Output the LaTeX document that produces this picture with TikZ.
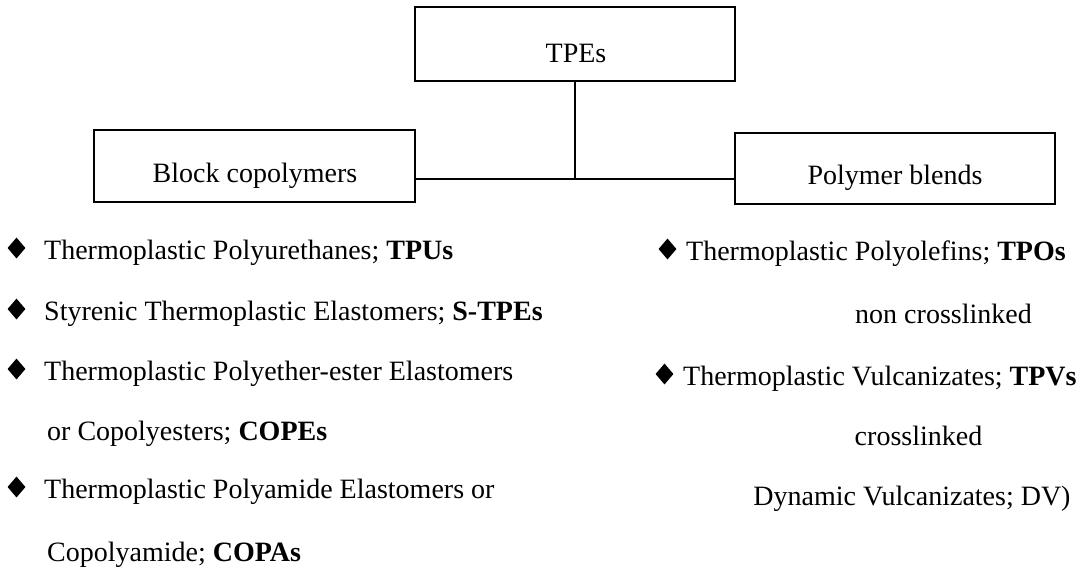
\documentclass[tikz,border=0pt]{standalone}
\usepackage{fontspec}
\setmainfont{Liberation Serif}
\usetikzlibrary{shapes.geometric}
\begin{document}
\begin{tikzpicture}[x=1pt,y=-1pt,
  box/.style={draw,line width=1.6pt,inner sep=0pt},
  lbl/.style={anchor=base,inner sep=0pt,font=\fontsize{28}{33}\selectfont},
  item/.style={anchor=base west,inner sep=0pt,font=\fontsize{28}{33}\selectfont},
  citem/.style={anchor=base,inner sep=0pt,font=\fontsize{28}{33}\selectfont},
  bullet/.style={diamond,fill=black,inner sep=0pt,minimum width=18pt,minimum height=21pt},
  conn/.style={line width=1.8pt}]
\useasboundingbox[fill=white] (0,0) rectangle (1089,571);
% boxes
\node[box,minimum width=320pt,minimum height=74pt] (tpe) at (575,44) {};
\node[box,minimum width=321pt,minimum height=72pt] (block) at (254.5,166) {};
\node[box,minimum width=320pt,minimum height=71pt] (blend) at (895,168.5) {};
\node[lbl] (tpet) at (576,62) {TPEs};
\node[lbl] (blockt) at (255,182) {Block copolymers};
\node[lbl] (blendt) at (895,184) {Polymer blends};
\coordinate (j) at (575,179);
\draw[conn] (tpe.south) -- (j);
\draw[conn] (block.east |- j) -- (blend.west |- j);
% left list
\node[bullet] (b1) at (16.5,248) {};
\node[item] (l1) at (44,259) {Thermoplastic Polyurethanes; \textbf{TPUs}};
\node[bullet] (b2) at (16.5,309) {};
\node[item] (l2) at (44,320) {Styrenic Thermoplastic Elastomers; \textbf{S-TPEs}};
\node[bullet] (b3) at (16.5,369) {};
\node[item] (l3) at (44,380) {Thermoplastic Polyether-ester Elastomers};
\node[item] (l4) at (47,440) {or Copolyesters; \textbf{COPEs}};
\node[bullet] (b5) at (16.5,487) {};
\node[item] (l5) at (44,498) {Thermoplastic Polyamide Elastomers or};
\node[item] (l6) at (47,561) {Copolyamide; \textbf{COPAs}};
% right list
\node[bullet] (b7) at (667.5,249) {};
\node[item] (r1) at (686,260) {Thermoplastic Polyolefins; \textbf{TPOs}};
\node[citem] (r2) at (943.5,323) {non crosslinked};
\node[bullet] (b8) at (664.5,374) {};
\node[item] (r3) at (683,385) {Thermoplastic Vulcanizates; \textbf{TPVs}};
\node[citem] (r4) at (918.5,445) {crosslinked};
\node[citem] (r5) at (912,505) {Dynamic Vulcanizates; DV)};
\end{tikzpicture}
\end{document}
